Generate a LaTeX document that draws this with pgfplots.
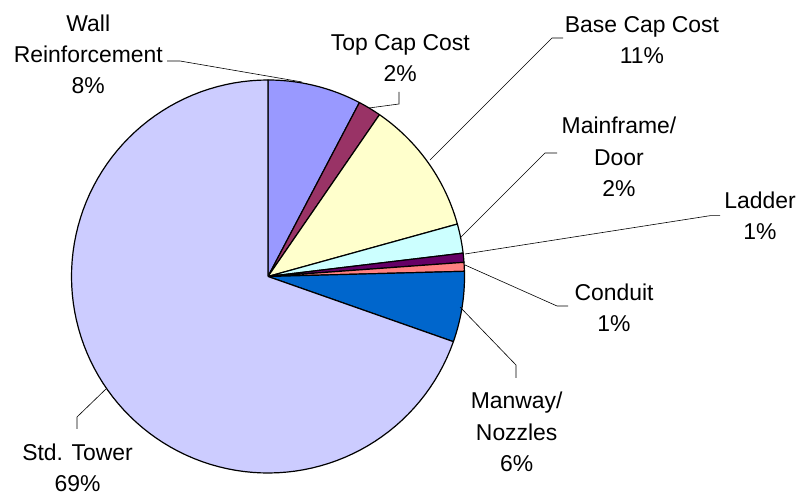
\documentclass[border=0pt]{standalone}
\usepackage{pgfplots}
\pgfplotsset{compat=1.18}
\usepackage{fontspec}
\setmainfont{Liberation Sans}
\definecolor{cWall}{HTML}{9999FF}
\definecolor{cTop}{HTML}{993366}
\definecolor{cBase}{HTML}{FFFFCC}
\definecolor{cMain}{HTML}{CCFFFF}
\definecolor{cLadder}{HTML}{660066}
\definecolor{cConduit}{HTML}{FF8080}
\definecolor{cManway}{HTML}{0066CC}
\definecolor{cTower}{HTML}{CCCCFF}
\newcommand\cum{0}
% one pie slice: #1 = share in percent, #2 = fill colour
\newcommand\slice[2]{%
  \pgfmathsetmacro\sA{\cum}%
  \pgfmathsetmacro\sB{\cum+#1}%
  \xdef\cum{\sB}%
  \edef\tmp{\noexpand\addplot[fill=#2, draw=black, line width=1.2bp, line join=round,
      samples at={-1,0,...,100,101}, variable=\noexpand\t]
    ({268+and(\noexpand\t>=0,\noexpand\t<=100)*196.5*cos(90-3.6*(\sA+(\sB-\sA)*\noexpand\t/100))},
     {219.5+and(\noexpand\t>=0,\noexpand\t<=100)*196.5*sin(90-3.6*(\sA+(\sB-\sA)*\noexpand\t/100))});}%
  \tmp}
\begin{document}
\begin{tikzpicture}
\begin{axis}[scale only axis, width=797bp, height=496bp,
  xmin=0, xmax=797, ymin=0, ymax=496, hide axis, clip=false]
\path (rel axis cs:0,0) rectangle (rel axis cs:1,1);
\slice{7.7}{cWall}
\slice{1.9}{cTop}
\slice{11.1}{cBase}
\slice{2.4}{cMain}
\slice{0.75}{cLadder}
\slice{0.73}{cConduit}
\slice{5.8}{cManway}
\slice{69.62}{cTower}
% leader lines
\addplot[black, line width=0.6bp] coordinates {(167,435) (180,435) (302,414)};
\addplot[black, line width=0.6bp] coordinates {(399,404) (399,392) (369,388)};
\addplot[black, line width=0.6bp] coordinates {(563,458) (552,458) (430,336)};
\addplot[black, line width=0.6bp] coordinates {(557,343) (545,343) (460,258)};
\addplot[black, line width=0.6bp] coordinates {(720,280.3) (710,280.3) (465,242)};
\addplot[black, line width=0.6bp] coordinates {(568,190) (557,190) (465,231)};
\addplot[black, line width=0.6bp] coordinates {(516,118) (516,131) (460,189)};
\addplot[black, line width=0.6bp] coordinates {(77,67) (77,79) (107,108)};
% labels (anchor = baseline of the last line)
\begin{scope}[every node/.style={anchor=base, align=center, inner sep=0pt,
   font=\fontsize{23}{31.5}\selectfont}]
\node at (axis cs:88.3,402) {Wall\\Reinforcement\\8\%};
\node at (axis cs:400.3,414) {Top Cap Cost\\2\%};
\node at (axis cs:642,432) {Base Cap Cost\\11\%};
\node at (axis cs:619,299.3) {Mainframe/\\Door\\2\%};
\node at (axis cs:760,256) {Ladder\\1\%};
\node at (axis cs:614,164.3) {Conduit\\1\%};
\node at (axis cs:516.7,24.3) {Manway/\\Nozzles\\6\%};
\node at (axis cs:77.5,4.3) {Std. Tower\\69\%};
\end{scope}
\end{axis}
\end{tikzpicture}
\end{document}
